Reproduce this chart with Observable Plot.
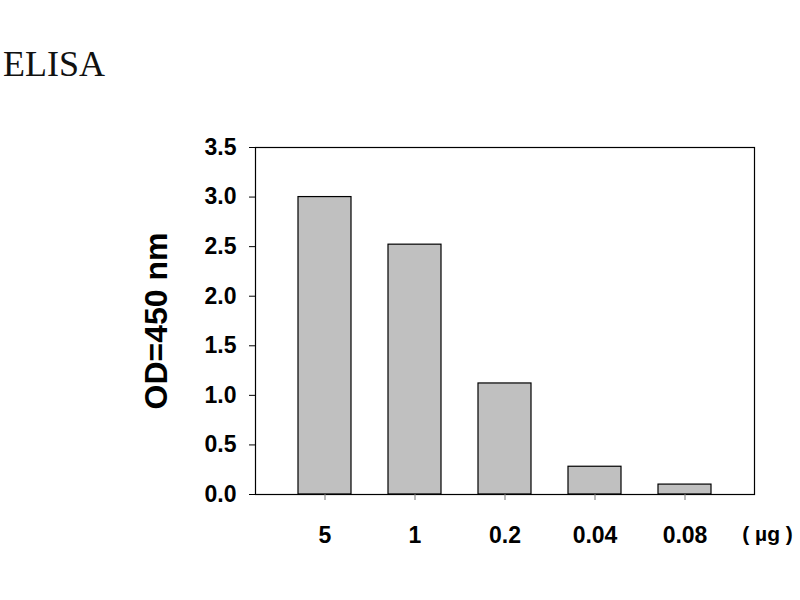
<!DOCTYPE html>
<html>
<head>
<meta charset="UTF-8">
<title>ELISA</title>
<script src="https://cdn.jsdelivr.net/npm/d3@7"></script>
<script src="https://cdn.jsdelivr.net/npm/@observablehq/plot@0.6"></script>
<style>
  body { margin: 0; background: #fff; }
  #wrap { position: relative; width: 800px; height: 600px; }
  #title { position: absolute; left: 3px; top: 46px; font: 36px/36px "Liberation Serif", "Times New Roman", serif; color: #111; }
  #chart { position: absolute; left: 0; top: 0; }
</style>
</head>
<body>
<div id="wrap">
  <div id="chart"></div>
  <div id="title">ELISA</div>
</div>
<script>
// doses (x categories) and OD readings
const doses = ["5", "1", "0.2", "0.04", "0.08"];
const od = [3.0, 2.52, 1.12, 0.28, 0.10];
const yTicks = [0, 0.5, 1.0, 1.5, 2.0, 2.5, 3.0, 3.5];
const yLabel = "OD=450 nm";
const unitLabel = "( \u00b5g )";

const rows = doses.map((d, i) => ({dose: d, od: od[i]}));

const chart = Plot.plot({
  width: 800,
  height: 600,
  marginLeft: 255,
  marginRight: 46,
  marginTop: 147,
  marginBottom: 106,
  style: {fontFamily: "'Liberation Sans', Arial, sans-serif", background: "white", color: "black"},
  x: {domain: doses, paddingInner: 0.415, paddingOuter: 0.464},
  y: {domain: [0, 3.5]},
  marks: [
    Plot.barY(rows, {x: "dose", y: "od", fill: "#c0c0c0", stroke: "black", strokeWidth: 1.2}),
    Plot.frame({stroke: "black", strokeWidth: 1.2}),
    Plot.axisY({ticks: yTicks, tickFormat: ".1f", tickSize: 6, tickPadding: 13, fontSize: 23, fontWeight: "bold", label: null, stroke: "black"}),
    Plot.axisX({tickSize: 6, tickPadding: 26, fontSize: 23, fontWeight: "bold", label: null, stroke: "#777", fill: "black"}),
    Plot.text([yLabel], {frameAnchor: "left", textAnchor: "middle", lineAnchor: "middle", rotate: -90, dx: -99, fontSize: 32, fontWeight: "bold"}),
    Plot.text([unitLabel], {frameAnchor: "bottom-right", textAnchor: "middle", lineAnchor: "middle", dx: 13, dy: 40, fontSize: 21, fontWeight: "bold"})
  ]
});

document.querySelector("#chart").append(chart);
</script>
</body>
</html>
